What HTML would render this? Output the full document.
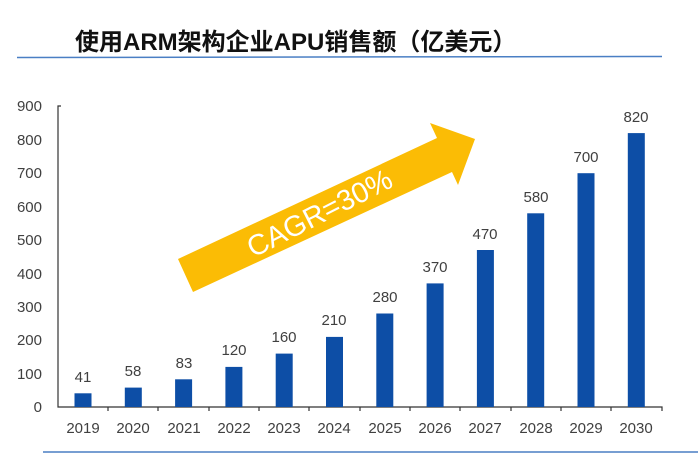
<!DOCTYPE html>
<html><head><meta charset="utf-8"><style>
body{margin:0;background:#fff;}
svg{display:block;font-family:"Liberation Sans","Noto Sans CJK SC",sans-serif;}
.t{font-size:15px;fill:#404040;text-anchor:middle;}
</style></head><body>
<svg width="698" height="455" viewBox="0 0 698 455">
<text x="75" y="50" font-size="24" font-weight="bold" fill="#111">使用ARM架构企业APU销售额（亿美元）</text>
<line x1="17" y1="57.5" x2="662" y2="56.5" stroke="#4a7fc4" stroke-width="1.5"/>
<line x1="43" y1="452" x2="698" y2="452" stroke="#4a7fc4" stroke-width="1.5"/>
<g font-size="15" fill="#404040" text-anchor="end">
<text x="42" y="412">0</text><text x="42" y="379">100</text><text x="42" y="345">200</text>
<text x="42" y="312">300</text><text x="42" y="279">400</text><text x="42" y="245">500</text>
<text x="42" y="212">600</text><text x="42" y="178">700</text><text x="42" y="145">800</text>
<text x="42" y="111">900</text>
</g>
<path d="M61 106H58V407H662V411" fill="none" stroke="#333" stroke-width="1.2"/>
<g stroke="#333" stroke-width="1.2">
<line x1="108" y1="407" x2="108" y2="411"/><line x1="158" y1="407" x2="158" y2="411"/><line x1="209" y1="407" x2="209" y2="411"/><line x1="259" y1="407" x2="259" y2="411"/><line x1="309" y1="407" x2="309" y2="411"/><line x1="360" y1="407" x2="360" y2="411"/><line x1="410" y1="407" x2="410" y2="411"/><line x1="460" y1="407" x2="460" y2="411"/><line x1="511" y1="407" x2="511" y2="411"/><line x1="561" y1="407" x2="561" y2="411"/><line x1="611" y1="407" x2="611" y2="411"/>
</g>
<g fill="#0d4ea6">
<rect x="74.5" y="393.3" width="17" height="13.7"/>
<rect x="124.8" y="387.6" width="17" height="19.4"/>
<rect x="175.1" y="379.3" width="17" height="27.7"/>
<rect x="225.4" y="366.9" width="17" height="40.1"/>
<rect x="275.7" y="353.6" width="17" height="53.4"/>
<rect x="326" y="336.9" width="17" height="70.1"/>
<rect x="376.3" y="313.5" width="17" height="93.5"/>
<rect x="426.6" y="283.4" width="17" height="123.6"/>
<rect x="476.9" y="250" width="17" height="157"/>
<rect x="527.2" y="213.3" width="17" height="193.7"/>
<rect x="577.5" y="173.2" width="17" height="233.8"/>
<rect x="627.8" y="133.1" width="17" height="273.9"/>
</g>
<text class="t" x="83" y="382">41</text><text class="t" x="133" y="376">58</text><text class="t" x="184" y="368">83</text>
<text class="t" x="234" y="355">120</text><text class="t" x="284" y="342">160</text><text class="t" x="334" y="325">210</text>
<text class="t" x="385" y="302">280</text><text class="t" x="435" y="272">370</text><text class="t" x="485" y="239">470</text>
<text class="t" x="536" y="202">580</text><text class="t" x="586" y="162">700</text><text class="t" x="636" y="122">820</text>
<text class="t" x="83" y="433">2019</text><text class="t" x="133" y="433">2020</text><text class="t" x="184" y="433">2021</text>
<text class="t" x="234" y="433">2022</text><text class="t" x="284" y="433">2023</text><text class="t" x="334" y="433">2024</text>
<text class="t" x="385" y="433">2025</text><text class="t" x="435" y="433">2026</text><text class="t" x="485" y="433">2027</text>
<text class="t" x="536" y="433">2028</text><text class="t" x="586" y="433">2029</text><text class="t" x="636" y="433">2030</text>
<polygon points="178,259 437,138 430,123 475,139 458,185 452,172 193,292" fill="#fbbc05"/>
<text transform="translate(324,222) rotate(-27)" x="0" y="0" font-size="29" fill="#fff" text-anchor="middle">CAGR=30%</text>
</svg>
</body></html>
